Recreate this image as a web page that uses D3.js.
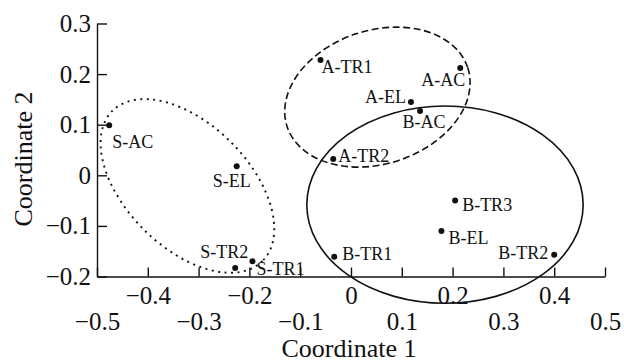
<!DOCTYPE html>
<html>
<head>
<meta charset="utf-8">
<script src="https://cdn.jsdelivr.net/npm/d3@7"></script>
<style>
  body { margin: 0; background: #fff; }
  text { font-family: "Liberation Serif", "Times New Roman", serif; fill: #111; }
</style>
</head>
<body>
<div id="chart"></div>
<script>
// sample names and their coordinates
const names = ["S-AC", "S-EL", "S-TR2", "S-TR1", "A-TR1", "A-AC", "A-EL", "B-AC", "A-TR2", "B-TR3", "B-EL", "B-TR1", "B-TR2"];
const coord1 = [-0.476, -0.225, -0.228, -0.194, -0.060, 0.215, 0.118, 0.136, -0.035, 0.205, 0.178, -0.033, 0.400];
const coord2 = [0.099, 0.018, -0.183, -0.170, 0.228, 0.212, 0.145, 0.127, 0.032, -0.050, -0.110, -0.161, -0.157];

// group ellipses (center, semi axes in data units, tilt in degrees)
const groups = ["S", "A", "B"];
const ellCx = [-0.322, 0.052, 0.185];
const ellCy = [-0.021, 0.1545, -0.058];
const ellRx = [0.209, 0.187, 0.272];
const ellRy = [0.122, 0.132, 0.195];
const ellTilt = [45, -18, 0];

const xTicks = [-0.5, -0.4, -0.3, -0.2, -0.1, 0, 0.1, 0.2, 0.3, 0.4, 0.5];
const yTicks = [-0.2, -0.1, 0, 0.1, 0.2, 0.3];

// label placement relative to the point: [dx, dy, anchor]
const labelPos = [
  [3, 23, "start"], [-5, 21, "middle"], [13, -10, "end"], [4, 14, "start"],
  [1, 13, "start"], [5, 18, "end"], [-5, 1, "end"], [4, 17, "middle"],
  [5, 3, "start"], [7, 10, "start"], [7, 13, "start"], [8, 3, "start"],
  [-6, 4, "end"]
];
const ellDash = ["2,4.5", "7,3.5", null];

const width = 624, height = 362;
const svg = d3.select("#chart")
  .append("svg")
  .attr("width", width)
  .attr("height", height);

const x = d3.scaleLinear().domain([-0.5, 0.5]).range([97, 605]);
const y = d3.scaleLinear().domain([-0.2, 0.3]).range([276.5, 23.5]);

const fmt = d => d === 0 ? "0" : d3.format(".1f")(d);

// Y axis
const gy = svg.append("g")
  .attr("transform", `translate(${x(-0.5)},0)`)
  .call(d3.axisLeft(y).tickValues(yTicks).tickSizeInner(-10).tickSizeOuter(0).tickPadding(6).tickFormat(fmt));
gy.selectAll("text").style("font-size", "25px");

// X axis, labels on two staggered rows
const gx = svg.append("g")
  .attr("transform", `translate(0,${y(-0.2)})`)
  .call(d3.axisBottom(x).tickValues(xTicks).tickSizeInner(-9).tickSizeOuter(0).tickFormat(fmt));
gx.selectAll("text")
  .style("font-size", "25px")
  .attr("dy", null)
  .attr("y", (d, i) => i % 2 === 0 ? 53.5 : 27.5);

svg.selectAll(".domain, .tick line")
  .attr("stroke", "#111")
  .attr("stroke-width", 1.4);
svg.selectAll(".tick text").attr("fill", "#111");

// ellipses
svg.selectAll("ellipse")
  .data(groups)
  .join("ellipse")
  .attr("transform", (d, i) => `translate(${x(ellCx[i])},${y(ellCy[i])}) rotate(${ellTilt[i]})`)
  .attr("rx", (d, i) => x(ellRx[i]) - x(0))
  .attr("ry", (d, i) => y(0) - y(ellRy[i]))
  .attr("fill", "none")
  .attr("stroke", "#111")
  .attr("stroke-width", (d, i) => i === 0 ? 1.9 : 1.6)
  .attr("stroke-dasharray", (d, i) => ellDash[i]);

// points
svg.selectAll("circle")
  .data(names)
  .join("circle")
  .attr("cx", (d, i) => x(coord1[i]))
  .attr("cy", (d, i) => y(coord2[i]))
  .attr("r", 3)
  .attr("fill", "#111");

svg.selectAll(".lbl")
  .data(names)
  .join("text")
  .attr("class", "lbl")
  .attr("x", (d, i) => x(coord1[i]) + labelPos[i][0])
  .attr("y", (d, i) => y(coord2[i]) + labelPos[i][1])
  .attr("text-anchor", (d, i) => labelPos[i][2])
  .style("font-size", "18px")
  .text(d => d);

// axis titles
svg.append("text")
  .attr("x", 349)
  .attr("y", 357)
  .attr("text-anchor", "middle")
  .style("font-size", "26px")
  .text("Coordinate 1");

svg.append("text")
  .attr("transform", "translate(32,159) rotate(-90)")
  .attr("text-anchor", "middle")
  .style("font-size", "26px")
  .text("Coordinate 2");
</script>
</body>
</html>
